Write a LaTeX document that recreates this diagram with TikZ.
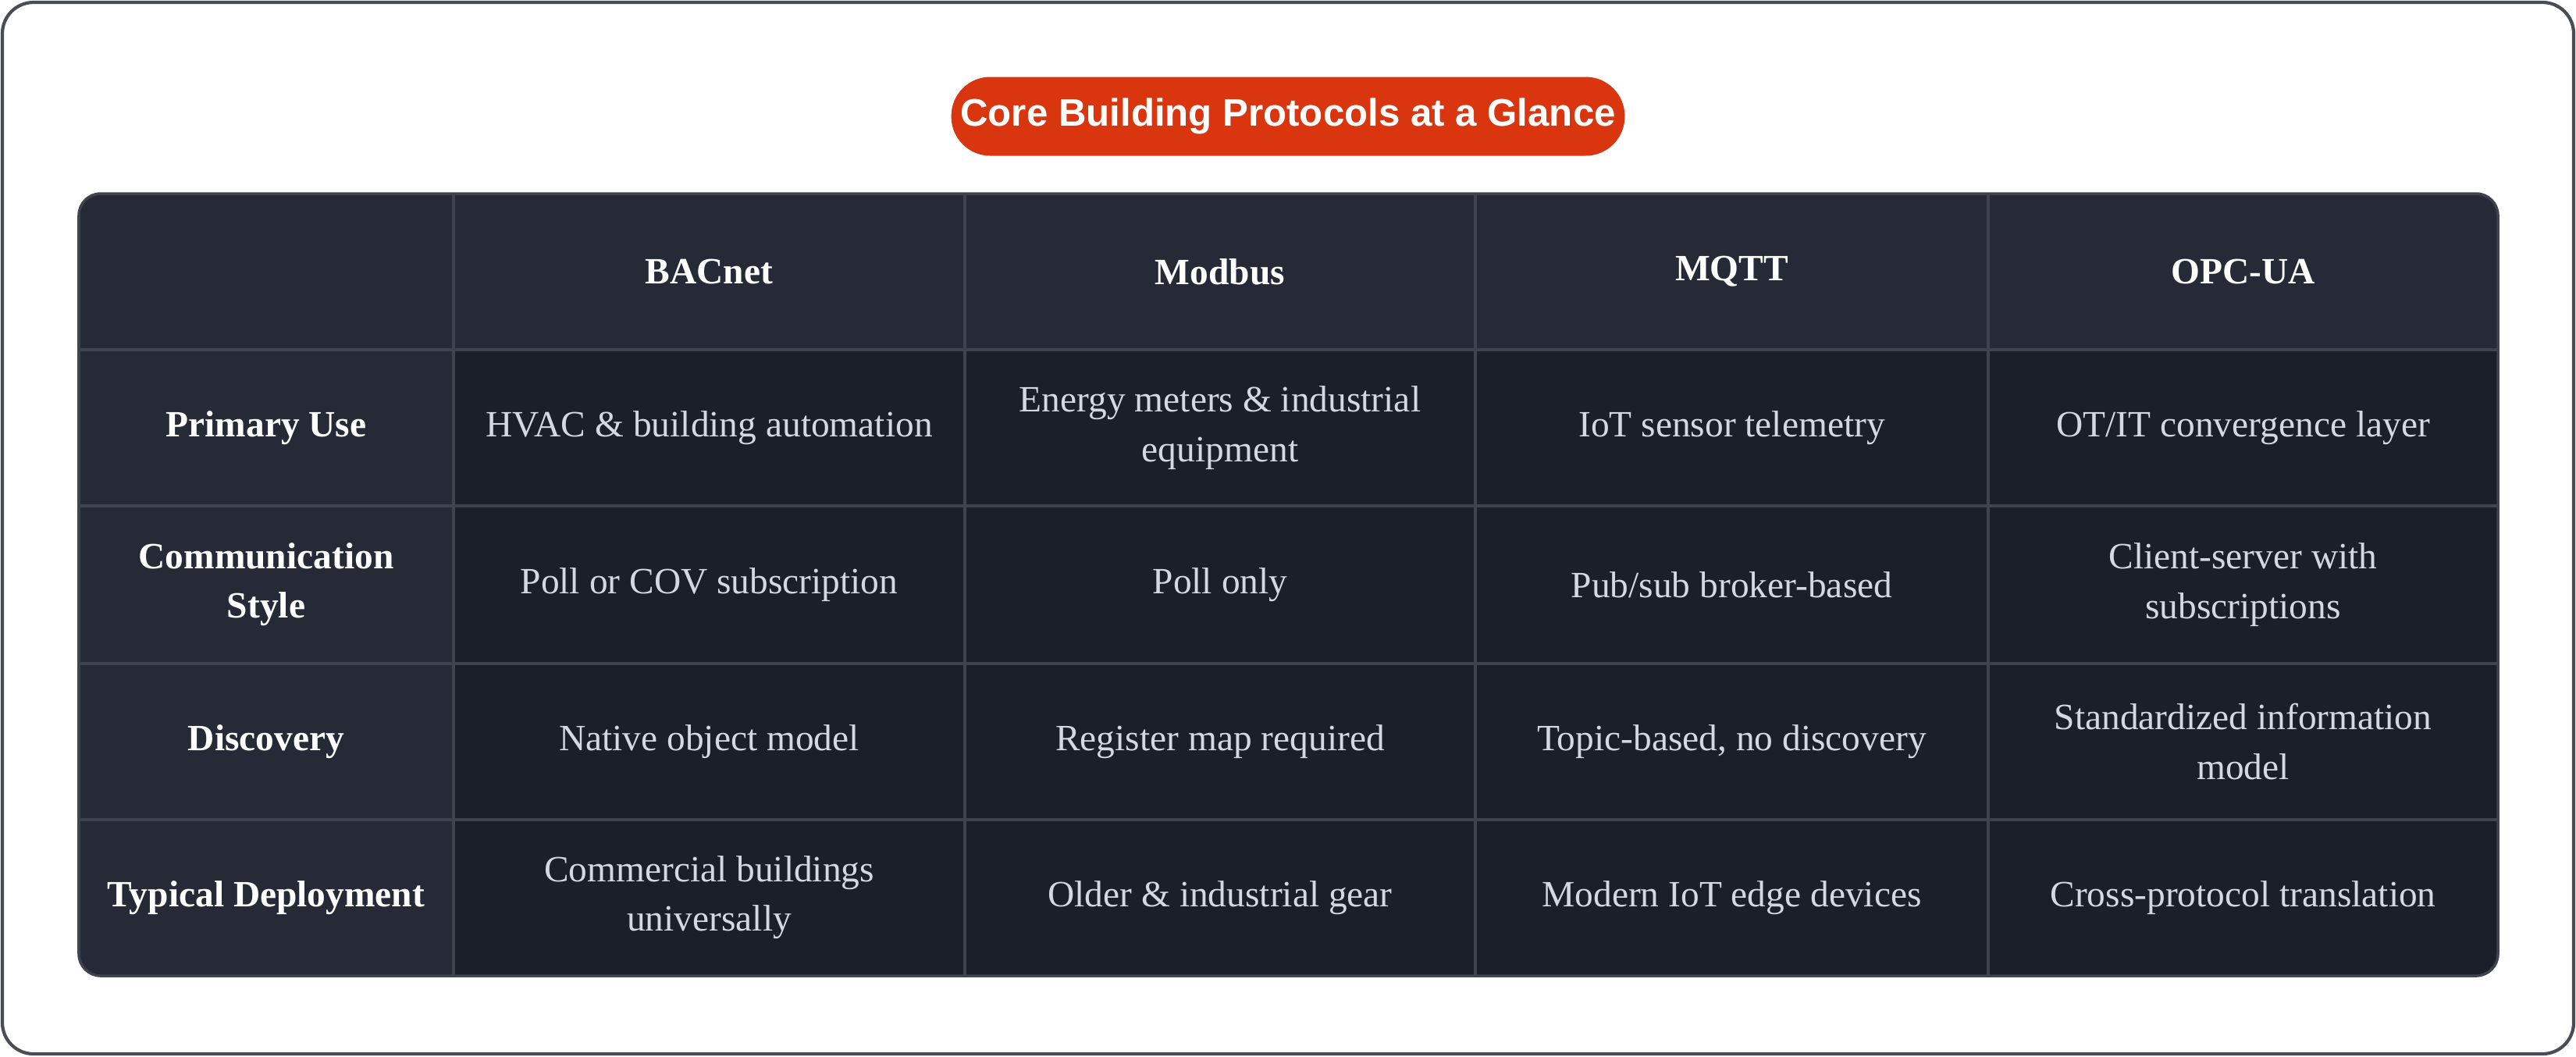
\documentclass[tikz,border=0pt]{standalone}
\usepackage{fontspec}
\setmainfont{Liberation Serif}
\setsansfont{Liberation Sans}
\usetikzlibrary{positioning}
\definecolor{frame_gray}{RGB}{74,77,85}
\definecolor{title_red}{RGB}{217,53,15}
\definecolor{cell_dark}{RGB}{27,31,42}
\definecolor{cell_head}{RGB}{37,42,54}
\definecolor{grid_line}{RGB}{62,67,78}
\definecolor{text_light}{RGB}{212,216,226}

\begin{document}
\begin{tikzpicture}
    \tikzstyle{cell}=[align=center, text=text_light, font=\fontsize{13.5}{18}\selectfont]
    \tikzstyle{head}=[style=cell, text=white, font=\fontsize{13.5}{18}\selectfont\bfseries]
    \tikzstyle{title}=[fill=title_red, text=white, rounded corners=0.5cm, minimum width=8.12cm, minimum height=1.01cm, font=\sffamily\bfseries\fontsize{14}{16}\selectfont]

    \useasboundingbox (0,0) rectangle (33,-13.53);
    \draw[frame_gray, line width=1.2pt, rounded corners=0.4cm] (0.03,-0.03) rectangle (32.97,-13.50);

    \node[title] (t) at (16.5,-1.49) {Core Building Protocols at a Glance};

    \begin{scope}
     \clip[rounded corners=0.28cm] (1.01,-2.48) rectangle (32.00,-12.50);
     \fill[cell_dark] (1.01,-2.48) rectangle (32.00,-12.50);
     \fill[cell_head] (1.01,-2.48) rectangle (32.00,-4.48);
     \fill[cell_head] (1.01,-2.48) rectangle (5.81,-12.50);
     \foreach \x in {5.81,12.36,18.90,25.47}
       \draw[grid_line, line width=1pt] (\x,-2.48) -- (\x,-12.50);
     \foreach \y in {4.48,6.48,8.50,10.50}
       \draw[grid_line, line width=1pt] (1.01,-\y) -- (32.00,-\y);
    \end{scope}
    \draw[grid_line, line width=1pt, rounded corners=0.28cm] (1.01,-2.48) rectangle (32.00,-12.50);

    \node[head] (bacnet) at (9.085,-3.48) {BACnet};
    \node[head] (modbus) at (15.63,-3.48) {Modbus};
    \node[head] (mqtt)   at (22.185,-3.48) {MQTT};
    \node[head] (opcua)  at (28.735,-3.48) {OPC-UA};

    \node[head] (use)    at (3.41,-5.48) {Primary Use};
    \node[head] (style)  at (3.41,-7.49) {Communication\\Style};
    \node[head] (disc)   at (3.41,-9.50) {Discovery};
    \node[head] (deploy) at (3.41,-11.50) {Typical Deployment};

    \node[cell] (use1) at (9.085,-5.48) {HVAC \& building automation};
    \node[cell] (use2) at (15.63,-5.48) {Energy meters \& industrial\\equipment};
    \node[cell] (use3) at (22.185,-5.48) {IoT sensor telemetry};
    \node[cell] (use4) at (28.735,-5.48) {OT/IT convergence layer};

    \node[cell] (style1) at (9.085,-7.49) {Poll or COV subscription};
    \node[cell] (style2) at (15.63,-7.49) {Poll only};
    \node[cell] (style3) at (22.185,-7.49) {Pub/sub broker-based};
    \node[cell] (style4) at (28.735,-7.49) {Client-server with\\subscriptions};

    \node[cell] (disc1) at (9.085,-9.50) {Native object model};
    \node[cell] (disc2) at (15.63,-9.50) {Register map required};
    \node[cell] (disc3) at (22.185,-9.50) {Topic-based, no discovery};
    \node[cell] (disc4) at (28.735,-9.50) {Standardized information\\model};

    \node[cell] (deploy1) at (9.085,-11.50) {Commercial buildings\\universally};
    \node[cell] (deploy2) at (15.63,-11.50) {Older \& industrial gear};
    \node[cell] (deploy3) at (22.185,-11.50) {Modern IoT edge devices};
    \node[cell] (deploy4) at (28.735,-11.50) {Cross-protocol translation};
\end{tikzpicture}
\end{document}
